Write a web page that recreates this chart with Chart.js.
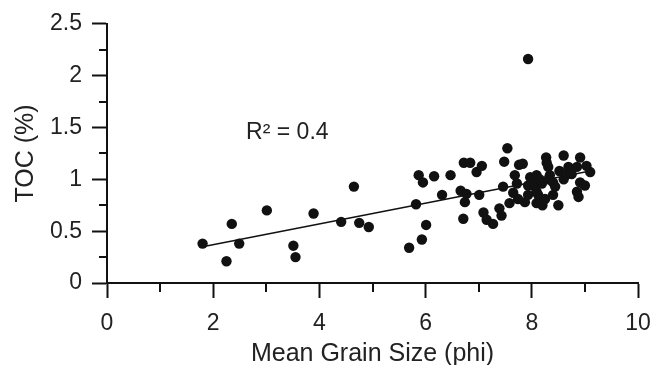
<!DOCTYPE html>
<html>
<head>
<meta charset="utf-8">
<script src="https://cdn.jsdelivr.net/npm/chart.js@4"></script>
<style>
  body { margin: 0; background: #fff; }
  #wrap { width: 666px; height: 365px; }
</style>
</head>
<body>
<div id="wrap"><canvas id="toc" width="666" height="365"></canvas></div>
<script>
// mean grain size (phi) vs TOC (%)
const grainSize = [1.80, 2.25, 2.35, 2.49, 3.01, 3.51, 3.55, 3.89, 4.41, 4.65,
  4.75, 4.93, 5.69, 5.82, 5.87, 5.93, 5.95, 6.01, 6.16, 6.31,
  6.47, 6.66, 6.71, 6.72, 6.74, 6.77, 6.84, 6.96, 7.01, 7.06,
  7.09, 7.15, 7.27, 7.39, 7.43, 7.46, 7.48, 7.54, 7.58, 7.65,
  7.68, 7.72, 7.74, 7.76, 7.83, 7.87, 7.93, 7.93, 7.93, 7.97,
  8.03, 8.06, 8.09, 8.09, 8.09, 8.12, 8.15, 8.15, 8.19, 8.20,
  8.25, 8.27, 8.28, 8.31, 8.31, 8.34, 8.40, 8.40, 8.44, 8.50,
  8.52, 8.60, 8.60, 8.66, 8.69, 8.75, 8.85, 8.85, 8.88, 8.91,
  8.91, 9.00, 9.03, 9.10];
const toc = [0.38, 0.21, 0.57, 0.38, 0.70, 0.36, 0.25, 0.67, 0.59, 0.93,
  0.58, 0.54, 0.34, 0.76, 1.04, 0.42, 0.97, 0.56, 1.03, 0.85,
  1.04, 0.89, 0.62, 1.16, 0.78, 0.86, 1.16, 1.07, 0.85, 1.13,
  0.68, 0.61, 0.57, 0.72, 0.65, 0.93, 1.17, 1.30, 0.77, 0.87,
  1.04, 0.96, 0.81, 1.14, 1.15, 0.78, 2.16, 0.94, 0.85, 1.02,
  1.00, 0.93, 1.04, 0.88, 0.77, 0.85, 0.81, 1.00, 0.96, 0.75,
  0.81, 1.21, 1.16, 1.12, 1.00, 1.04, 0.97, 0.85, 0.93, 0.75,
  1.08, 1.23, 1.00, 1.05, 1.12, 1.05, 1.12, 0.88, 0.83, 1.21,
  0.97, 0.94, 1.13, 1.07];

// fitted line
const trendX = [1.8, 9.1];
const trendY = [0.35, 1.08];
const r2Label = 'R² = 0.4';
const r2At = [2.62, 1.45];

const xMinor = [1, 3, 5, 7, 9];
const yMinor = [0.25, 0.75, 1.25, 1.75, 2.25];

const FONT = "'Liberation Sans', Arial, sans-serif";
const INK = '#111';

const pts = grainSize.map((g, i) => ({ x: g, y: toc[i] }));
const trend = trendX.map((g, i) => ({ x: g, y: trendY[i] }));

const extras = {
  id: 'extras',
  afterDraw(chart) {
    const ctx = chart.ctx;
    const xs = chart.scales.x, ys = chart.scales.y;
    ctx.save();
    ctx.strokeStyle = INK;
    ctx.lineWidth = 2;
    xMinor.forEach(v => {
      const px = Math.round(xs.getPixelForValue(v));
      ctx.beginPath();
      ctx.moveTo(px, ys.bottom);
      ctx.lineTo(px, ys.bottom + 9);
      ctx.stroke();
    });
    yMinor.forEach(v => {
      const py = Math.round(ys.getPixelForValue(v));
      ctx.beginPath();
      ctx.moveTo(xs.left, py);
      ctx.lineTo(xs.left - 8, py);
      ctx.stroke();
    });
    ctx.fillStyle = '#222';
    ctx.font = '23px ' + FONT;
    ctx.textBaseline = 'middle';
    ctx.fillText(r2Label, xs.getPixelForValue(r2At[0]), ys.getPixelForValue(r2At[1]));
    ctx.restore();
  }
};

new Chart(document.getElementById('toc'), {
  type: 'scatter',
  data: {
    datasets: [{
      data: pts,
      backgroundColor: INK,
      borderColor: INK,
      pointRadius: 5.2,
      pointHoverRadius: 5.2,
      borderWidth: 0
    }, {
      data: trend,
      showLine: true,
      borderColor: INK,
      borderWidth: 1.5,
      pointRadius: 0
    }]
  },
  options: {
    responsive: false,
    animation: false,
    devicePixelRatio: 1,
    layout: { padding: { left: 0, right: 28, top: 20, bottom: 0 } },
    plugins: { legend: { display: false }, tooltip: { enabled: false } },
    scales: {
      x: {
        type: 'linear',
        min: 0, max: 10,
        afterFit: s => { s.height = 82; },
        border: { display: true, color: INK, width: 2 },
        grid: { drawOnChartArea: false, drawTicks: true, tickLength: 15, tickColor: INK, tickWidth: 2 },
        ticks: { stepSize: 2, color: '#222', font: { family: FONT, size: 23 }, padding: 12, maxRotation: 0,
          callback: v => v.toString() },
        title: { display: true, text: 'Mean Grain Size (phi)', color: '#222', font: { family: FONT, size: 25 }, padding: { top: 0, bottom: -4 } }
      },
      y: {
        type: 'linear',
        min: 0, max: 2.5,
        afterFit: s => { s.width = 107; },
        border: { display: true, color: INK, width: 2 },
        grid: { drawOnChartArea: false, drawTicks: true, tickLength: 15, tickColor: INK, tickWidth: 2 },
        ticks: { stepSize: 0.5, color: '#222', font: { family: FONT, size: 23 }, padding: 10,
          callback: v => v.toString() },
        title: { display: true, text: 'TOC (%)', color: '#222', font: { family: FONT, size: 25 }, padding: { top: 11, bottom: 0 } }
      }
    }
  },
  plugins: [extras]
});
</script>
</body>
</html>
